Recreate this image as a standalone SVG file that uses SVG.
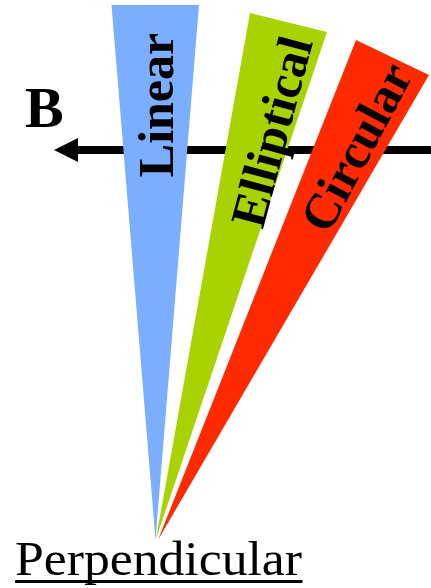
<svg xmlns="http://www.w3.org/2000/svg" width="431" height="588" viewBox="0 0 431 588">
<style>
.lbl{font-family:"Liberation Serif","Times New Roman",serif;font-weight:bold;font-size:50px;fill:#000;text-anchor:middle}
.big{font-family:"Liberation Serif","Times New Roman",serif;fill:#000}
</style>
<rect width="431" height="588" fill="#fff"/>
<g id="connectors">
<line x1="76" y1="150" x2="431" y2="150" stroke="#000" stroke-width="8"/>
<polygon points="54,150 78,138 78,162" fill="#000"/>
</g>
<g id="linear">
<polygon points="111.5,5 199,5 155.5,540" fill="#7BAEFF"/>
<text class="lbl" transform="translate(173,105) rotate(-90)">Linear</text>
</g>
<g id="elliptical">
<polygon points="250,13 327,32 156,539" fill="#A9D300"/>
<text class="lbl" transform="translate(288,136) rotate(-75)">Elliptical</text>
</g>
<g id="circular">
<polygon points="356,40 429,75 158,540" fill="#FF2A00"/>
<text class="lbl" transform="translate(371,155) rotate(-62)">Circular</text>
</g>
<g id="label-b">
<text class="big" x="25" y="127" font-size="58" font-weight="bold">B</text>
</g>
<g id="label-perpendicular">
<text class="big" x="15" y="575" font-size="48" textLength="287" lengthAdjust="spacingAndGlyphs">Perpendicular</text>
<line x1="15" y1="581.5" x2="302.5" y2="581.5" stroke="#000" stroke-width="3"/>
</g>
</svg>
